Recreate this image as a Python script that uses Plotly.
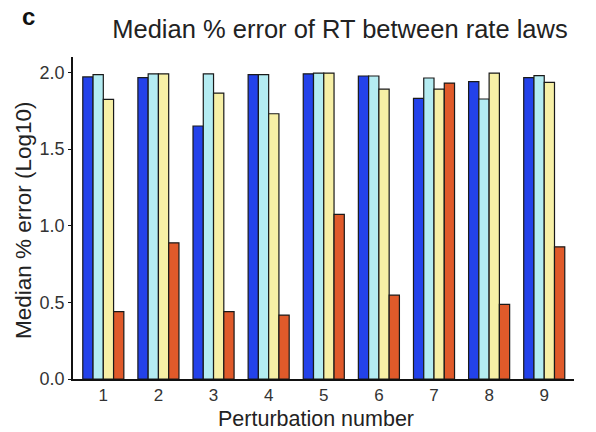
import plotly.graph_objects as go

categories = [1, 2, 3, 4, 5, 6, 7, 8, 9]
series_names = ["Law A", "Law B", "Law C", "Law D"]
law_a = [1.97, 1.965, 1.65, 1.985, 1.99, 1.976, 1.83, 1.94, 1.965]
law_b = [1.985, 1.99, 1.99, 1.985, 1.995, 1.976, 1.963, 1.826, 1.978]
law_c = [1.824, 1.99, 1.865, 1.73, 1.995, 1.89, 1.89, 1.995, 1.935]
law_d = [0.44, 0.888, 0.44, 0.417, 1.073, 0.547, 1.93, 0.487, 0.862]
colors = ["#2342ea", "#b4ecf2", "#f7f0a6", "#e05a2a"]
tick_vals = [0.0, 0.5, 1.0, 1.5, 2.0]
tick_text = ["0.0", "0.5", "1.0", "1.5", "2.0"]

W, H = 596, 432
L, R, T, B = 73, 22, 57, 53
pw, ph = W - L - R, H - T - B


def px(x):
    return (x - L) / pw


def py(y):
    return (H - B - y) / ph


fig = go.Figure()
for name, vals, col in zip(series_names, [law_a, law_b, law_c, law_d], colors):
    fig.add_trace(go.Bar(x=categories, y=vals, name=name,
                         marker=dict(color=col, line=dict(color="#1a1a1a", width=1.2))))

fig.update_layout(
    width=W, height=H,
    barmode="group", bargap=0.255, bargroupgap=0,
    showlegend=False,
    plot_bgcolor="white", paper_bgcolor="white",
    margin=dict(l=L, r=R, t=T, b=B),
    font=dict(family="Liberation Sans, Arial, sans-serif", color="#333333"),
    title=dict(text="Median % error of RT between rate laws", x=340 / W, xanchor="center",
               xref="container", y=1 - 29 / H, yanchor="middle",
               font=dict(size=25.5, color="#222222")),
    annotations=[
        dict(text="<b>c</b>", x=px(28), y=py(17), xref="paper", yref="paper",
             xanchor="center", yanchor="middle", showarrow=False,
             font=dict(size=24, color="#111111")),
        dict(text="Perturbation number", x=px(316), y=py(419), xref="paper", yref="paper",
             xanchor="center", yanchor="middle", showarrow=False,
             font=dict(size=21.5, color="#222222")),
        dict(text="Median % error (Log10)", x=px(23), y=py(220), xref="paper", yref="paper",
             xanchor="center", yanchor="middle", showarrow=False, textangle=-90,
             font=dict(size=22.5, color="#222222")),
    ],
)
fig.update_xaxes(range=[0.45, 9.54], tickvals=categories, ticktext=[str(c) for c in categories],
                 showline=True, linecolor="#111111", linewidth=1.5, ticks="",
                 tickfont=dict(size=17, color="#333333"), showgrid=False, zeroline=False)
fig.update_yaxes(range=[0, 2.1], tickvals=tick_vals, ticktext=tick_text,
                 showline=True, linecolor="#111111", linewidth=1.5, ticks="outside", ticklen=3,
                 tickcolor="#111111", tickfont=dict(size=18, color="#333333"), showgrid=False,
                 zeroline=False)

fig.write_html("out.html")
